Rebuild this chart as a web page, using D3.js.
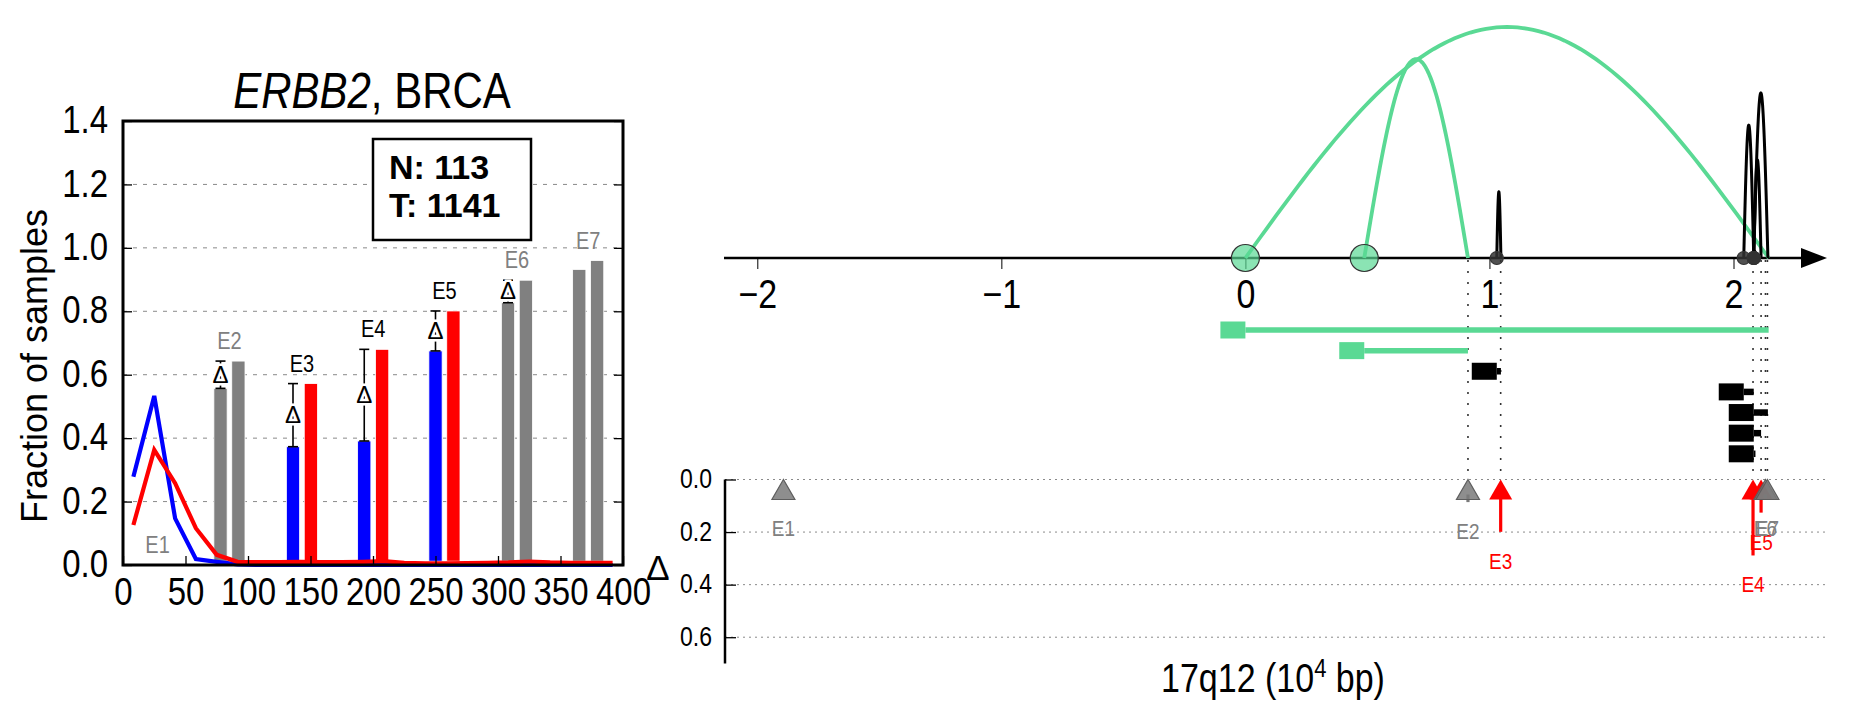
<!DOCTYPE html>
<html><head><meta charset="utf-8">
<script src="https://cdn.jsdelivr.net/npm/d3@7"></script>
<style>body{margin:0;background:#fff}svg{display:block;font-family:"Liberation Sans",Arial,Helvetica,sans-serif}</style>
</head><body><svg id="c" width="1851" height="718"></svg>
<script>
// ---------------- data ----------------
const exonLabels = ["E1","E2","E3","E4","E5","E6","E7"];
const exonBarX   = [20.5, 78, 136, 193, 250, 308, 365];          // normal bar centre (read length axis)
const normalFrac = [0.000, 0.557, 0.373, 0.391, 0.675, 0.827, 0.932];
const tumorFrac  = [0.000, 0.643, 0.572, 0.680, 0.801, 0.898, 0.960];
const significant = [false, false, true, true, true, false, false];
const showDelta   = [false, true, true, true, true, true, false];

const binX = [8.3, 25, 41.7, 58.3, 75, 91.7, 108.3, 125, 141.7, 158.3, 175, 191.7,
              208.3, 225, 241.7, 258.3, 275, 291.7, 308.3, 325, 341.7, 358.3, 375, 391.7];
const normalDist = [0.278, 0.533, 0.147, 0.019, 0.010, 0.002, 0, 0, 0, 0, 0, 0,
                    0, 0, 0, 0, 0, 0, 0, 0, 0, 0, 0, 0];
const tumorDist  = [0.126, 0.363, 0.258, 0.116, 0.032, 0.010, 0.009, 0.009, 0.010, 0.009, 0.009, 0.010,
                    0.012, 0.007, 0.005, 0.005, 0.006, 0.007, 0.008, 0.011, 0.008, 0.007, 0.007, 0.007];
const sampleText = ["N: 113", "T: 1141"];
const yTicksL = [0, 0.2, 0.4, 0.6, 0.8, 1.0, 1.2, 1.4];
const gridL   = [0.2, 0.4, 0.6, 0.8, 1.0, 1.2];
const xTicksL = [0, 50, 100, 150, 200, 250, 300, 350, 400];

const exonPos   = [-1.893, 0.912, 1.046, 2.080, 2.113, 2.131, 2.139];   // 10^4 bp
const arcStart  = [0, 0.487, 1.030, 2.042, 2.083, 2.083, 2.083];
const arcEnd    = [2.144, 0.912, 1.047, 2.083, 2.141, 2.113, 2.090];
const arcHeight = [1.000, 0.861, 0.286, 0.575, 0.714, 0.424, 0.030];
const arcGreen  = [true, true, false, false, false, false, false];
const genomeTicks = [-2, -1, 0, 1, 2];
const deltaTicks  = [0, 0.2, 0.4, 0.6];

// ---------------- setup ----------------
const svg = d3.select("#c");
const GREEN = "#5ad994", GRAY = "#808080";
const fmt1 = d3.format(".1f");
const SY = 1.18;   // glyph aspect of the reference typeface
function stretch(sel, sy) {
  sel.each(function () {
    const t = d3.select(this);
    const x = +t.attr("x") || 0, y = +t.attr("y") || 0;
    const prev = t.attr("transform") || "";
    t.attr("x", 0).attr("y", 0).attr("transform", `${prev} translate(${x},${y}) scale(1,${sy})`);
  });
}

// ======== LEFT PANEL ========
const xL = d3.scaleLinear().domain([0, 400]).range([123, 623]);
const yL = d3.scaleLinear().domain([0, 1.4]).range([565, 121]);
const L = svg.append("g");

// grid
L.selectAll("line.grid").data(gridL).join("line")
  .attr("x1", xL(0)).attr("x2", xL(400)).attr("y1", d => yL(d)).attr("y2", d => yL(d))
  .attr("stroke", "#8a8a8a").attr("stroke-width", 1).attr("stroke-dasharray", "4,6");

// bars
const pairOff = 14.3, barW = 10.6;
exonLabels.forEach((e, i) => {
  const cN = significant[i] ? "#0000ff" : GRAY;
  const cT = significant[i] ? "#ff0000" : GRAY;
  [[exonBarX[i], normalFrac[i], cN], [exonBarX[i] + pairOff, tumorFrac[i], cT]].forEach(([x, v, c]) => {
    if (v <= 0) return;
    L.append("rect")
      .attr("x", xL(x - barW / 2)).attr("width", xL(barW) - xL(0))
      .attr("y", yL(v)).attr("height", yL(0.012) - yL(v))
      .attr("fill", c).attr("stroke", "#fff").attr("stroke-width", 0.8);
  });
});

// distribution lines
const lineL = d3.line().x((d, i) => xL(binX[i])).y(d => yL(d));
L.append("path").attr("d", lineL(normalDist)).attr("fill", "none").attr("stroke", "#0000ff").attr("stroke-width", 4.2);
L.append("path").attr("d", lineL(tumorDist)).attr("fill", "none").attr("stroke", "#ff0000").attr("stroke-width", 4.2);

// error bars + delta markers
exonLabels.forEach((e, i) => {
  if (!showDelta[i]) return;
  const x = xL(exonBarX[i]);
  const y1 = yL(normalFrac[i]), y2 = yL(tumorFrac[i]);
  L.append("line").attr("x1", x).attr("x2", x).attr("y1", y1).attr("y2", y2).attr("stroke", "#000").attr("stroke-width", 1.6);
  [y1, y2].forEach(y => L.append("line").attr("x1", x - 5).attr("x2", x + 5).attr("y1", y).attr("y2", y).attr("stroke", "#000").attr("stroke-width", 1.6));
  const ym = yL((normalFrac[i] + tumorFrac[i]) / 2);
  L.append("text").attr("x", x).attr("y", ym + 8).attr("text-anchor", "middle")
    .attr("font-size", 24).attr("fill", "#000")
    .attr("stroke", "#fff").attr("stroke-width", 5).attr("paint-order", "stroke")
    .text("Δ");
});

// exon labels
const exL = L.append("g");
exonLabels.forEach((e, i) => {
  exL.append("text")
    .attr("x", xL(exonBarX[i] + pairOff / 2))
    .attr("y", yL(Math.max(normalFrac[i], tumorFrac[i])) - 12)
    .attr("text-anchor", "middle").attr("font-size", 20)
    .attr("fill", significant[i] ? "#000" : GRAY).text(e);
});
stretch(exL.selectAll("text"), SY);

// frame & ticks
L.append("rect").attr("x", xL(0)).attr("y", yL(1.4)).attr("width", xL(400) - xL(0)).attr("height", yL(0) - yL(1.4))
  .attr("fill", "none").attr("stroke", "#000").attr("stroke-width", 3);
const axL = L.append("g").attr("transform", `translate(${xL(0)},0)`)
  .call(d3.axisLeft(yL).tickValues(yTicksL).tickFormat(fmt1).tickSize(-9).tickPadding(15));
const axR = L.append("g").attr("transform", `translate(${xL(400)},0)`)
  .call(d3.axisRight(yL).tickValues(yTicksL).tickFormat("").tickSize(-9));
const axB = L.append("g").attr("transform", `translate(0,${yL(0)})`)
  .call(d3.axisBottom(xL).tickValues(xTicksL).tickSize(-9).tickPadding(12));
[axL, axR, axB].forEach(a => {
  a.select(".domain").remove();
  a.selectAll(".tick line").attr("stroke", "#000").attr("stroke-width", 1.3);
  a.selectAll("text").attr("font-size", 33).attr("font-family", "Liberation Sans, Arial, sans-serif").attr("fill", "#000");
});
axB.selectAll("text").attr("dy", "0.71em");
axL.selectAll("text").attr("dy", "0.3em");
stretch(axL.selectAll("text"), SY);
stretch(axB.selectAll("text"), SY);

// sample box
L.append("rect").attr("x", 373).attr("y", 139).attr("width", 158).attr("height", 101)
  .attr("fill", "#fff").attr("stroke", "#000").attr("stroke-width", 2.5);
sampleText.forEach((t, i) => L.append("text").attr("x", 389).attr("y", 179 + i * 38)
  .attr("font-size", 34).attr("font-weight", "bold").text(t));

// title & y label
const title = L.append("text").attr("x", 372).attr("y", 108).attr("text-anchor", "middle").attr("font-size", 42);
title.append("tspan").attr("font-style", "italic").text("ERBB2");
title.append("tspan").text(", BRCA");
stretch(title, SY);
L.append("text").attr("transform", "translate(47,366) rotate(-90)").attr("text-anchor", "middle")
  .attr("font-size", 36).text("Fraction of samples");

// ======== RIGHT PANEL ========
const xR = d3.scaleLinear().domain([0, 2]).range([1245.4, 1733.5]);
const axisY = 258;
const hA = d3.scaleLinear().domain([0, 1]).range([axisY, 27]);
const yB = d3.scaleLinear().domain([0, 0.7]).range([479.5, 663.5]);
const R = svg.append("g");

// genome axis
R.append("line").attr("x1", 724).attr("x2", 1806).attr("y1", axisY).attr("y2", axisY).attr("stroke", "#000").attr("stroke-width", 2.5);
R.append("path").attr("d", `M1801,${axisY - 10}L1827,${axisY}L1801,${axisY + 10}Z`).attr("fill", "#000");
const axG = R.append("g").attr("transform", `translate(0,${axisY})`)
  .call(d3.axisBottom(xR).tickValues(genomeTicks).tickSize(11).tickPadding(11).tickFormat(d3.format("")));
axG.select(".domain").remove();
axG.selectAll(".tick line").attr("stroke", "#000").attr("stroke-width", 1);
axG.selectAll("text").attr("font-size", 34).attr("font-family", "Liberation Sans, Arial, sans-serif").attr("fill", "#000").attr("dy", "0.71em");
stretch(axG.selectAll("text"), SY);

// dotted exon guides
exonPos.forEach((p, i) => {
  if (i === 0) return;
  R.append("line").attr("x1", xR(p)).attr("x2", xR(p)).attr("y1", axisY + 2).attr("y2", yB(0))
    .attr("stroke", "#333").attr("stroke-width", 1.6).attr("stroke-dasharray", "2,9");
});

// arcs
const arcLine = d3.line().x(d => d[0]).y(d => d[1]);
arcStart.forEach((s, i) => {
  const x0 = xR(s), x1 = xR(arcEnd[i]), h = axisY - hA(arcHeight[i]);
  const pts = d3.range(0, 1.0001, 0.01).map(t => [x0 + t * (x1 - x0), axisY - h * Math.sin(Math.PI * t)]);
  R.append("path").attr("d", arcLine(pts)).attr("fill", "none")
    .attr("stroke", arcGreen[i] ? GREEN : "#000").attr("stroke-width", arcGreen[i] ? 3.8 : 3);
});
// arc start circles
arcStart.forEach((s, i) => {
  R.append("ellipse").attr("cx", xR(s)).attr("cy", axisY)
    .attr("rx", arcGreen[i] ? 14 : 6.5).attr("ry", arcGreen[i] ? 13.5 : 6.5)
    .attr("fill", arcGreen[i] ? GREEN : "#333").attr("fill-opacity", arcGreen[i] ? 0.7 : 0.85)
    .attr("stroke", "#333").attr("stroke-width", 1.2);
});

// junction bars
const rowY = d3.scaleLinear().domain([0, 6]).range([330, 453.8]);
arcStart.forEach((s, i) => {
  const c = arcGreen[i] ? GREEN : "#000", y = rowY(i);
  R.append("line").attr("x1", xR(s)).attr("x2", xR(arcEnd[i])).attr("y1", y).attr("y2", y)
    .attr("stroke", c).attr("stroke-width", arcGreen[i] ? 5.5 : 6.5);
  R.append("rect").attr("x", xR(s) - 25).attr("y", y - 8.5).attr("width", 25).attr("height", 17).attr("fill", c);
});

// delta axis
R.append("g").selectAll("line").data(deltaTicks).join("line")
  .attr("x1", 725).attr("x2", 1827).attr("y1", d => yB(d)).attr("y2", d => yB(d))
  .attr("stroke", "#8a8a8a").attr("stroke-width", 1).attr("stroke-dasharray", "2,4");
const axD = R.append("g").attr("transform", "translate(725,0)")
  .call(d3.axisLeft(yB).tickValues(deltaTicks).tickFormat(fmt1).tickSize(-11).tickPadding(13));
axD.select(".domain").attr("d", `M0,${yB(0)}V${yB(0.7)}`).attr("stroke", "#000").attr("stroke-width", 2.5);
axD.selectAll(".tick line").attr("stroke", "#000").attr("stroke-width", 1.3);
axD.selectAll("text").attr("font-size", 23).attr("font-family", "Liberation Sans, Arial, sans-serif").attr("fill", "#000").attr("dy", "0.3em");
stretch(axD.selectAll("text"), SY);
R.append("text").attr("x", 658).attr("y", 580).attr("text-anchor", "middle").attr("font-size", 35).text("Δ");

// exon arrows
const exR = R.append("g");
exonPos.forEach((p, i) => {
  const x = xR(p), y0 = yB(0);
  const d = tumorFrac[i] - normalFrac[i];
  const sig = significant[i];
  const col = sig ? "#ff0000" : "#7a7a7a";
  if (d > 0.02) {
    R.append("rect").attr("x", x - 1.6).attr("width", 3.2).attr("y", y0 + 15).attr("height", Math.max(0, yB(d) - y0 - 15))
      .attr("fill", col);
  }
  R.append("path").attr("d", `M${x},${y0}L${x - 11.5},${y0 + 20}L${x + 11.5},${y0 + 20}Z`)
    .attr("fill", col).attr("fill-opacity", sig ? 1 : 0.85)
    .attr("stroke", sig ? "none" : "#5e5e5e").attr("stroke-width", 1.2);
  exR.append("text").attr("x", x).attr("y", yB(Math.max(d, 0.075)) + 37).attr("text-anchor", "middle")
    .attr("font-size", 19).attr("fill", sig ? "#ff0000" : GRAY).text(exonLabels[i]);
});
exR.raise();
stretch(exR.selectAll("text"), SY);

// x label
const xl = R.append("text").attr("x", 1273).attr("y", 692).attr("text-anchor", "middle").attr("font-size", 34);
xl.append("tspan").text("17q12 (10");
xl.append("tspan").attr("font-size", 22).attr("dy", -13).text("4");
xl.append("tspan").attr("dy", 13).text(" bp)");
stretch(xl, SY);
</script></body></html>
